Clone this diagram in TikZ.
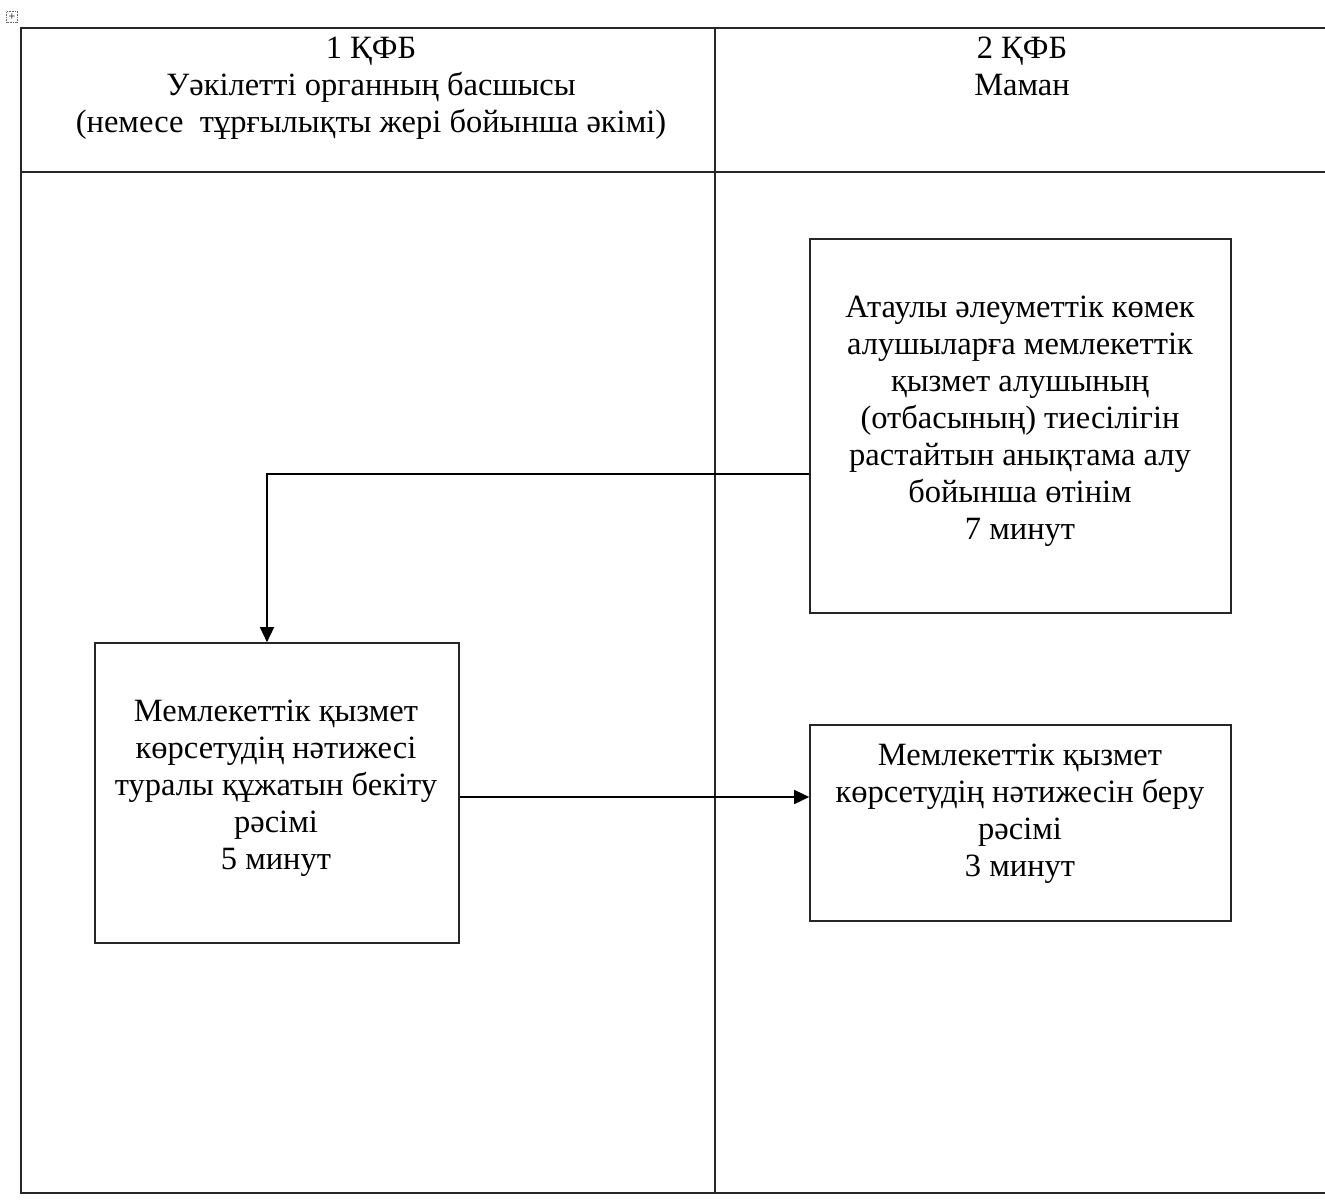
\documentclass[tikz,border=0pt]{standalone}
\usepackage{fontspec}
\setmainfont{Liberation Serif}
\usetikzlibrary{arrows.meta}
\begin{document}
\begin{tikzpicture}[x=1pt,y=-1pt,
  tbl/.style={line width=2.4pt,draw=black!85},
  sep/.style={line width=1.6pt,draw=black!85},
  box/.style={draw=black!85,line width=1.6pt,rectangle,inner sep=0pt},
  txt/.style={align=center,font=\fontsize{32.5}{37}\selectfont,inner sep=0pt},
  conn/.style={line width=1.4pt,-{Triangle[length=15pt,width=14pt]}}]
\useasboundingbox (0,0) rectangle (1325,1202);
% table move handle
\node[draw=black!60,densely dotted,line width=0.6pt,minimum size=11pt,inner sep=0pt,
  label={[inner sep=0pt,font=\fontsize{12}{12}\selectfont]center:+}] (handle) at (12,17) {};
% table
\coordinate (tl) at (21,28);
\coordinate (tr) at (1325,28);
\coordinate (hl) at (21,172);
\coordinate (hr) at (1325,172);
\coordinate (bl) at (21,1193);
\coordinate (br) at (1325,1193);
\coordinate (mt) at (715,28);
\coordinate (mb) at (715,1193);
\draw[tbl] (tr) -- (tl) -- (bl) -- (br);
\draw[tbl] (hl) -- (hr);
\draw[sep] (mt) -- (mb);
% headers
\node[txt,anchor=north] (h1) at (371,37) {1 ҚФБ\\Уәкілетті органның басшысы\\(немесе~ тұрғылықты жері бойынша әкімі)};
\node[txt,anchor=north] (h2) at (1022,37) {2 ҚФБ\\Маман};
% boxes
\node[box,minimum width=421pt,minimum height=374pt] (a) at (1020.5,426) {};
\node[txt] (at) at (1020,421) {Атаулы әлеуметтік көмек\\алушыларға мемлекеттік\\қызмет алушының\\(отбасының) тиесілігін\\растайтын анықтама алу\\бойынша өтінім\\7 минут};
\node[box,minimum width=364pt,minimum height=300pt] (b) at (277,793) {};
\node[txt] (bt) at (276,788) {Мемлекеттік қызмет\\көрсетудің нәтижесі\\туралы құжатын бекіту\\рәсімі\\5 минут};
\node[box,minimum width=421pt,minimum height=196pt] (c) at (1020.5,823) {};
\node[txt] (ct) at (1020,814) {Мемлекеттік қызмет\\көрсетудің нәтижесін беру\\рәсімі\\3 минут};
% connectors
\draw[conn] (a.west |- 0,474) -| (267,0 |- b.north);
\draw[conn] (b.east |- 0,797) -- (c.west |- 0,797);
\end{tikzpicture}
\end{document}
